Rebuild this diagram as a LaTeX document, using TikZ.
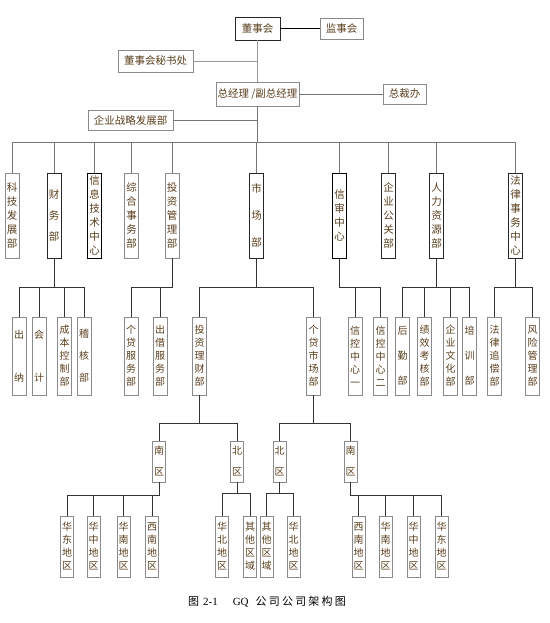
\documentclass[tikz,border=0pt]{standalone}
\usepackage{fontspec}
\setmainfont{Liberation Serif}
\newfontfamily\cjk{Noto Sans CJK SC}
\newfontfamily\capfont{Noto Sans CJK SC}[LetterSpace=20]
\usetikzlibrary{positioning,calc}
\definecolor{Ink}{HTML}{5A3F1E}
\definecolor{Edge}{HTML}{8A8A8A}
\definecolor{Wire}{HTML}{767676}

\begin{document}
\begin{tikzpicture}[x=1pt,y=-1pt,
    hb/.style={draw=Edge,fill=white,text=Ink,font=\cjk\fontsize{10.5}{12}\selectfont,
      inner sep=0pt,minimum height=21pt},
    vb/.style={draw=Edge,fill=white,text=Ink,font=\cjk\fontsize{10}{13}\selectfont,
      inner sep=0pt,minimum width=14pt,align=center},
    l1/.style={vb,minimum height=85pt,font=\cjk\fontsize{10.5}{14}\selectfont},
    l2/.style={vb,minimum height=78pt},
    l3/.style={vb,minimum width=13pt,minimum height=41pt},
    l4/.style={vb,minimum width=13pt,minimum height=61pt},
    wire/.style={draw=Wire,line width=0.8pt},
    dk/.style={draw=black!85}]
  \useasboundingbox (0,0) rectangle (549,623);

  \node[hb,dk,minimum width=45pt,minimum height=23pt] (dsh) at (257.5,28.5) {董事会};
  \node[hb,minimum width=43pt] (jsh) at (341.5,28.5) {监事会};
  \node[hb,minimum width=75pt,minimum height=22pt] (ms) at (155.5,61) {董事会秘书处};
  \node[hb,minimum width=83pt,minimum height=24pt] (zjl) at (257.5,94) {总经理 /副总经理};
  \node[hb,minimum width=43pt,minimum height=20pt] (zcb) at (404.5,94) {总裁办};
  \node[hb,minimum width=85pt,minimum height=20pt] (zl) at (130.5,120) {企业战略发展部};

  % departments
  \node[l1] (kj) at (12,215.5) {科\\技\\发\\展\\部};
  \node[l1,dk] (cw) at (54,215.5) {财\\[7pt]务\\[7pt]部};
  \node[l1,draw=black] (xx) at (94.5,215.5) {信\\息\\技\\术\\中\\心};
  \node[l1] (zh) at (131.5,215.5) {综\\合\\事\\务\\部};
  \node[l1] (tz) at (172,215.5) {投\\资\\管\\理\\部};
  \node[l1,dk] (sc) at (256.5,215.5) {市\\[13pt]场\\[13pt]部};
  \node[l1,draw=black] (xs) at (339.5,215.5) {信\\审\\中\\心};
  \node[l1,dk] (gg) at (388.5,215.5) {企\\业\\公\\关\\部};
  \node[l1,dk] (rl) at (436.5,215.5) {人\\力\\资\\源\\部};
  \node[l1,dk] (fl) at (515.5,215.5) {法\\律\\事\\务\\中\\心};

  \node[l2] (cn) at (19,356) {出\\[30pt]纳};
  \node[l2] (kji) at (39,356) {会\\[30pt]计};
  \node[l2] (cb) at (64.5,356) {成\\本\\控\\制\\部};
  \node[l2] (jh) at (84,356) {稽\\[9pt]核\\[9pt]部};
  \node[l2] (gd) at (131,356) {个\\贷\\服\\务\\部};
  \node[l2] (cj) at (160,356) {出\\借\\服\\务\\部};
  \node[l2] (lc) at (199.5,356) {投\\资\\理\\财\\部};
  \node[l2] (gs) at (313.5,356) {个\\贷\\市\\场\\部};
  \node[l2] (xk1) at (355,356) {信\\控\\中\\心\\一};
  \node[l2] (xk2) at (380.5,356) {信\\控\\中\\心\\二};
  \node[l2] (hq) at (402.5,356) {后\\[12pt]勤\\[12pt]部};
  \node[l2] (jx) at (424.5,356) {绩\\效\\考\\核\\部};
  \node[l2] (wh) at (450.5,356) {企\\业\\文\\化\\部};
  \node[l2] (px) at (469.5,356) {培\\[12pt]训\\[12pt]部};
  \node[l2] (zc) at (494.5,356) {法\\律\\追\\偿\\部};
  \node[l2] (fx) at (532.5,356) {风\\险\\管\\理\\部};

  \node[l3] (nq1) at (159,461.5) {南\\[8pt]区};
  \node[l3] (bq1) at (237,461.5) {北\\[8pt]区};
  \node[l3] (bq2) at (279.5,461.5) {北\\[8pt]区};
  \node[l3] (nq2) at (350.5,461.5) {南\\[8pt]区};

  \node[l4] (hd1) at (67,546.5) {华\\东\\地\\区};
  \node[l4] (hz1) at (93.5,546.5) {华\\中\\地\\区};
  \node[l4] (hn1) at (123.5,546.5) {华\\南\\地\\区};
  \node[l4] (xn1) at (152,546.5) {西\\南\\地\\区};
  \node[l4] (hb1) at (222,546.5) {华\\北\\地\\区};
  \node[l4] (qt1) at (250,546.5) {其\\他\\区\\域};
  \node[l4] (qt2) at (266.5,546.5) {其\\他\\区\\域};
  \node[l4] (hb2) at (293.5,546.5) {华\\北\\地\\区};
  \node[l4] (xn2) at (358.5,546.5) {西\\南\\地\\区};
  \node[l4] (hn2) at (385.5,546.5) {华\\南\\地\\区};
  \node[l4] (hz2) at (413.5,546.5) {华\\中\\地\\区};
  \node[l4] (hd2) at (441.5,546.5) {华\\东\\地\\区};

  \node[font=\fontsize{11}{13}\selectfont] (cap) at (267,602)
    {{\capfont 图}\hspace{4pt}2-1\hspace{15pt}GQ\hspace{7pt}{\capfont 公司公司架构图}};

  % connectors
  \draw[wire,draw=black] (dsh) -- (jsh);
  \draw[wire,draw=black!40] (dsh) -- (zjl);
  \draw[wire,draw=black!40] (ms) -- (ms -| dsh);
  \draw[wire] (zjl) -- (zcb);
  \draw[wire] (zl) -- (zl -| zjl);
  \foreach \n in {kj,cw,xx,zh,tz,sc,xs,gg,rl,fl}
    \draw[wire] (zjl.south) -- ++(0,36) -| (\n.north);
  \foreach \n in {cn,kji,cb,jh}
    \draw[wire,draw=black!80] (cw.south) -- ++(0,29) -| (\n.north);
  \foreach \n in {gd,cj}
    \draw[wire,draw=black!80] (tz.south) -- ++(0,29) -| (\n.north);
  \foreach \n in {lc,gs}
    \draw[wire,draw=black!80] (sc.south) -- ++(0,29) -| (\n.north);
  \foreach \n in {xk1,xk2}
    \draw[wire,draw=black!80] (xs.south) -- ++(0,29) -| (\n.north);
  \foreach \n in {hq,jx,wh,px}
    \draw[wire,draw=black!80] (rl.south) -- ++(0,29) -| (\n.north);
  \foreach \n in {zc,fx}
    \draw[wire,draw=black!80] (fl.south) -- ++(0,29) -| (\n.north);
  \foreach \n in {nq1,bq1}
    \draw[wire,draw=black!80] (lc.south) -- ++(0,28) -| (\n.north);
  \foreach \n in {bq2,nq2}
    \draw[wire,draw=black!80] (gs.south) -- ++(0,28) -| (\n.north);
  \foreach \n in {hd1,hz1,hn1,xn1}
    \draw[wire,draw=black!80] (nq1.south) -- ++(0,13) -| (\n.north);
  \foreach \n in {hb1,qt1}
    \draw[wire,draw=black!80] (bq1.south) -- ++(0,11) -| (\n.north);
  \foreach \n in {qt2,hb2}
    \draw[wire,draw=black!80] (bq2.south) -- ++(0,11) -| (\n.north);
  \foreach \n in {xn2,hn2,hz2,hd2}
    \draw[wire,draw=black!80] (nq2.south) -- ++(0,13) -| (\n.north);
\end{tikzpicture}
\end{document}
